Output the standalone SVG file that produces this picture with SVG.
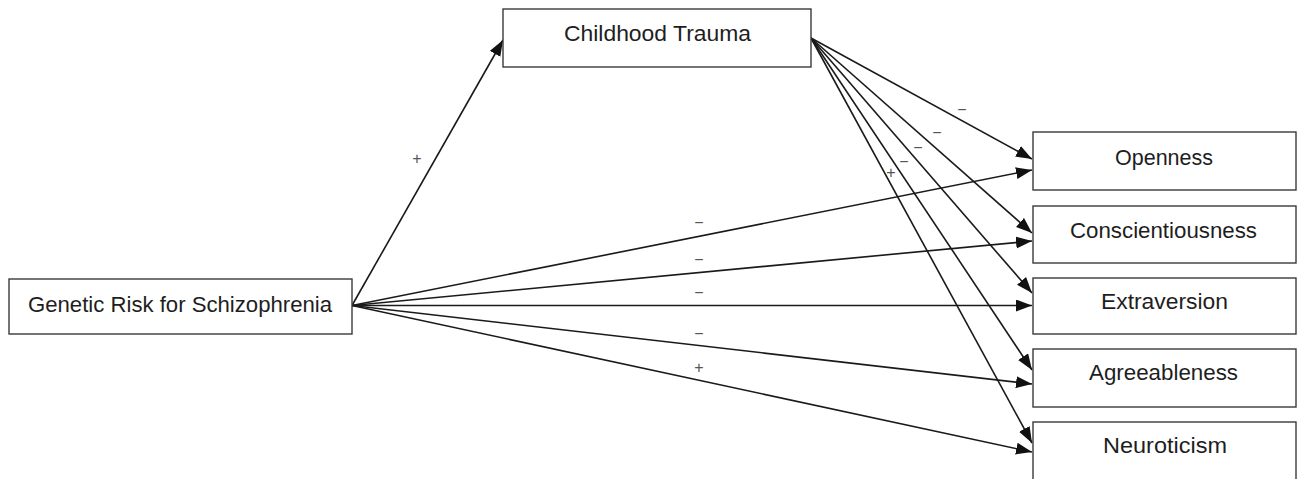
<svg xmlns="http://www.w3.org/2000/svg" width="1297" height="479" viewBox="0 0 1297 479">
<defs>
<marker id="ah" markerUnits="userSpaceOnUse" markerWidth="17" markerHeight="13" refX="16" refY="6" orient="auto">
<path d="M0,0 L16,6 L0,12 z" fill="#111"/>
</marker>
<style>
.box{fill:#fff;stroke:#3a3a3a;stroke-width:1.4}
.lbl{font-family:"Liberation Sans",Arial,sans-serif;font-size:22px;fill:#1e1e1e}
.c{fill:none;stroke:#1a1a1a;stroke-width:1.6;marker-end:url(#ah)}
.s{font-family:"Liberation Sans",Arial,sans-serif;font-size:16px;fill:#555;text-anchor:middle}
</style>
</defs>
<rect width="1297" height="479" fill="#fff"/>
<g id="connectors">
<line class="c" x1="811" y1="38" x2="1032" y2="159"/>
<line class="c" x1="811" y1="38" x2="1032" y2="233"/>
<line class="c" x1="811" y1="38" x2="1032" y2="293"/>
<line class="c" x1="811" y1="38" x2="1032" y2="370"/>
<line class="c" x1="811" y1="38" x2="1032" y2="443"/>
<line class="c" x1="352" y1="305.5" x2="503" y2="40"/>
<line class="c" x1="352" y1="305.5" x2="1032" y2="170"/>
<line class="c" x1="352" y1="305.5" x2="1032" y2="241"/>
<line class="c" x1="352" y1="305.5" x2="1032" y2="305.5"/>
<line class="c" x1="352" y1="305.5" x2="1032" y2="384"/>
<line class="c" x1="352" y1="305.5" x2="1032" y2="452"/>
<g id="signs">
<text class="s" x="417" y="164">+</text>
<text class="s" x="699" y="228">−</text>
<text class="s" x="699" y="265">−</text>
<text class="s" x="699" y="298">−</text>
<text class="s" x="699" y="339">−</text>
<text class="s" x="699" y="373">+</text>
<text class="s" x="962" y="115">−</text>
<text class="s" x="937" y="138">−</text>
<text class="s" x="918" y="153">−</text>
<text class="s" x="904" y="167">−</text>
<text class="s" x="891" y="178">+</text>
</g>
</g>
<g id="node-trauma">
<rect class="box" x="503" y="9" width="308" height="58"/>
<text class="lbl" x="564" y="41" textLength="187" lengthAdjust="spacingAndGlyphs">Childhood Trauma</text>
</g>
<g id="node-genetic">
<rect class="box" x="9" y="279" width="343" height="55"/>
<text class="lbl" x="28" y="312" textLength="304" lengthAdjust="spacingAndGlyphs">Genetic Risk for Schizophrenia</text>
</g>
<g id="node-openness">
<rect class="box" x="1033" y="132" width="263" height="58"/>
<text class="lbl" x="1115" y="165" textLength="98" lengthAdjust="spacingAndGlyphs">Openness</text>
</g>
<g id="node-conscientiousness">
<rect class="box" x="1033" y="206" width="263" height="57"/>
<text class="lbl" x="1070" y="238" textLength="187" lengthAdjust="spacingAndGlyphs">Conscientiousness</text>
</g>
<g id="node-extraversion">
<rect class="box" x="1033" y="278" width="263" height="56"/>
<text class="lbl" x="1101" y="309" textLength="127" lengthAdjust="spacingAndGlyphs">Extraversion</text>
</g>
<g id="node-agreeableness">
<rect class="box" x="1033" y="349" width="263" height="58"/>
<text class="lbl" x="1089" y="380" textLength="149" lengthAdjust="spacingAndGlyphs">Agreeableness</text>
</g>
<g id="node-neuroticism">
<rect class="box" x="1033" y="422" width="263" height="70"/>
<text class="lbl" x="1103" y="453" textLength="124" lengthAdjust="spacingAndGlyphs">Neuroticism</text>
</g>
</svg>
